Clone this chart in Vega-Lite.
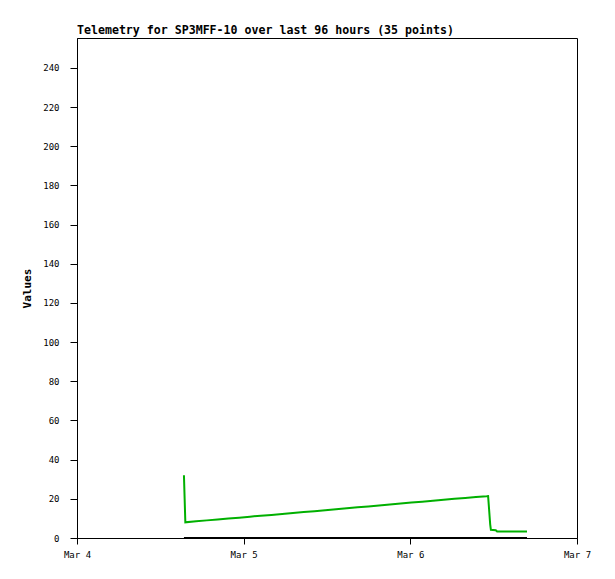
{
  "$schema": "https://vega.github.io/schema/vega-lite/v6.json",
  "width": 500,
  "height": 500,
  "autosize": "none",
  "padding": {"left": 77, "top": 38, "right": 38, "bottom": 41},
  "background": "white",
  "title": {
    "text": "Telemetry for SP3MFF-10 over last 96 hours (35 points)",
    "anchor": "start",
    "frame": "group",
    "font": "DejaVu Sans Mono",
    "fontSize": 11.6,
    "fontWeight": "bold",
    "color": "black",
    "offset": 1
  },
  "config": {
    "view": {"stroke": "black", "strokeWidth": 1},
    "axis": {
      "labelFont": "DejaVu Sans Mono",
      "labelFontSize": 9,
      "labelColor": "black",
      "titleFont": "DejaVu Sans Mono",
      "titleFontSize": 11,
      "titleFontWeight": "bold",
      "titleColor": "black",
      "domainColor": "black",
      "tickColor": "black",
      "tickSize": 6,
      "grid": false
    }
  },
  "data": {
    "values": [
      {"t": "2024-03-04T15:24:00Z", "v": 32, "s": "g"},
      {"t": "2024-03-04T15:30:00Z", "v": 20, "s": "g"},
      {"t": "2024-03-04T15:36:00Z", "v": 8.0, "s": "g"},
      {"t": "2024-03-04T17:09:00Z", "v": 8.5, "s": "g"},
      {"t": "2024-03-04T18:42:00Z", "v": 9.0, "s": "g"},
      {"t": "2024-03-04T20:15:00Z", "v": 9.4, "s": "g"},
      {"t": "2024-03-04T21:48:00Z", "v": 9.9, "s": "g"},
      {"t": "2024-03-04T23:21:00Z", "v": 10.4, "s": "g"},
      {"t": "2024-03-05T00:54:00Z", "v": 10.9, "s": "g"},
      {"t": "2024-03-05T02:27:00Z", "v": 11.4, "s": "g"},
      {"t": "2024-03-05T04:00:00Z", "v": 11.8, "s": "g"},
      {"t": "2024-03-05T05:33:00Z", "v": 12.3, "s": "g"},
      {"t": "2024-03-05T07:06:00Z", "v": 12.8, "s": "g"},
      {"t": "2024-03-05T08:39:00Z", "v": 13.3, "s": "g"},
      {"t": "2024-03-05T10:12:00Z", "v": 13.7, "s": "g"},
      {"t": "2024-03-05T11:45:00Z", "v": 14.2, "s": "g"},
      {"t": "2024-03-05T13:18:00Z", "v": 14.7, "s": "g"},
      {"t": "2024-03-05T14:51:00Z", "v": 15.2, "s": "g"},
      {"t": "2024-03-05T16:24:00Z", "v": 15.7, "s": "g"},
      {"t": "2024-03-05T17:57:00Z", "v": 16.1, "s": "g"},
      {"t": "2024-03-05T19:30:00Z", "v": 16.6, "s": "g"},
      {"t": "2024-03-05T21:03:00Z", "v": 17.1, "s": "g"},
      {"t": "2024-03-05T22:36:00Z", "v": 17.6, "s": "g"},
      {"t": "2024-03-06T00:09:00Z", "v": 18.1, "s": "g"},
      {"t": "2024-03-06T01:42:00Z", "v": 18.5, "s": "g"},
      {"t": "2024-03-06T03:15:00Z", "v": 19.0, "s": "g"},
      {"t": "2024-03-06T04:48:00Z", "v": 19.5, "s": "g"},
      {"t": "2024-03-06T06:21:00Z", "v": 20.0, "s": "g"},
      {"t": "2024-03-06T07:54:00Z", "v": 20.4, "s": "g"},
      {"t": "2024-03-06T09:27:00Z", "v": 20.9, "s": "g"},
      {"t": "2024-03-06T11:00:00Z", "v": 21.3, "s": "g"},
      {"t": "2024-03-06T11:12:00Z", "v": 21.4, "s": "g"},
      {"t": "2024-03-06T11:30:00Z", "v": 7, "s": "g"},
      {"t": "2024-03-06T11:36:00Z", "v": 4.2, "s": "g"},
      {"t": "2024-03-06T12:18:00Z", "v": 4.0, "s": "g"},
      {"t": "2024-03-06T12:30:00Z", "v": 3.3, "s": "g"},
      {"t": "2024-03-06T14:30:00Z", "v": 3.3, "s": "g"},
      {"t": "2024-03-06T16:48:00Z", "v": 3.3, "s": "g"},
      {"t": "2024-03-04T15:24:00Z", "v": 0, "s": "k"},
      {"t": "2024-03-05T04:00:00Z", "v": 0, "s": "k"},
      {"t": "2024-03-05T16:24:00Z", "v": 0, "s": "k"},
      {"t": "2024-03-06T04:48:00Z", "v": 0, "s": "k"},
      {"t": "2024-03-06T16:48:00Z", "v": 0, "s": "k"}
    ]
  },
  "mark": {"type": "line", "strokeWidth": 2, "clip": true},
  "encoding": {
    "x": {
      "field": "t",
      "type": "temporal",
      "scale": {
        "type": "utc",
        "domain": [
          {"year": 2024, "month": 3, "date": 4, "utc": true},
          {"year": 2024, "month": 3, "date": 7, "utc": true}
        ]
      },
      "axis": {
        "title": null,
        "format": "%b %-d",
        "values": [
          {"year": 2024, "month": 3, "date": 4, "utc": true},
          {"year": 2024, "month": 3, "date": 5, "utc": true},
          {"year": 2024, "month": 3, "date": 6, "utc": true},
          {"year": 2024, "month": 3, "date": 7, "utc": true}
        ],
        "labelPadding": 6,
        "labelFlush": false
      }
    },
    "y": {
      "field": "v",
      "type": "quantitative",
      "scale": {"domain": [0, 255.3], "nice": false},
      "axis": {
        "title": "Values",
        "values": [0, 20, 40, 60, 80, 100, 120, 140, 160, 180, 200, 220, 240],
        "tickSize": 7,
        "labelPadding": 11,
        "titlePadding": 10
      }
    },
    "color": {
      "field": "s",
      "type": "nominal",
      "scale": {"domain": ["g", "k"], "range": ["#00b000", "#000000"]},
      "legend": null
    }
  }
}
